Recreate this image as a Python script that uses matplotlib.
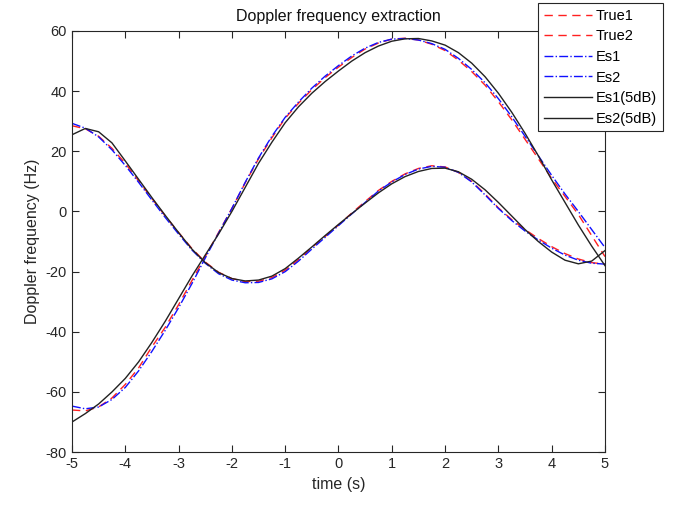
import matplotlib.pyplot as plt
import numpy as np

plt.rcParams["font.family"] = ["Liberation Sans", "DejaVu Sans"]
plt.rcParams["axes.unicode_minus"] = False

# time axis, step 0.25 s
t = [-5, -4.75, -4.5, -4.25, -4, -3.75, -3.5, -3.25, -3, -2.75, -2.5, -2.25, -2, -1.75,
     -1.5, -1.25, -1, -0.75, -0.5, -0.25, 0, 0.25, 0.5, 0.75, 1, 1.25, 1.5, 1.75, 2,
     2.25, 2.5, 2.75, 3, 3.25, 3.5, 3.75, 4, 4.25, 4.5, 4.75, 5]

true1 = [-66, -66.3, -65, -62, -57.5, -52, -45, -38.5, -31, -23, -15, -7, 1, 9.5,
         17.5, 24.5, 31, 36, 40.5, 44.5, 48, 51.2, 54, 56, 57.3, 57.6, 57, 55.6, 53.5,
         50.3, 46.5, 42, 36.5, 30.5, 24, 17.5, 11, 5, -1, -8, -15]
true2 = [28.5, 27.5, 25, 21, 16, 10.2, 4.3, -1.5, -7, -12.3, -16.8, -20.2, -22.3, -23.3,
         -23.2, -22, -19.5, -16, -12, -8.3, -4.5, -0.5, 3.3, 7, 10, 12.5, 14.3, 15.2, 14.8,
         13, 10, 5.8, 1.2, -2.7, -6, -9, -11.7, -14, -15.8, -17, -17.5]
es1 = [-64.7, -65.6, -65, -62.5, -58.5, -53, -46.5, -39.5, -32, -24, -15.5, -7.2, 1, 9.7,
       17.8, 25, 31.3, 36.4, 41, 45, 48.5, 51.7, 54.3, 56.2, 57.3, 57.5, 57, 55.8, 53.9,
       50.9, 47.2, 42.8, 37.5, 31.5, 25, 18.5, 12, 5.8, 0, -6, -12]
es2 = [29.3, 27.7, 24.8, 20.5, 15.3, 9.7, 3.8, -2, -7.5, -12.8, -17.2, -20.7, -22.8, -23.7,
       -23.6, -22.4, -20, -16.5, -12.5, -8.6, -4.7, -0.8, 3, 6.8, 9.8, 12.3, 14.1, 15, 14.7,
       13, 9.8, 5.5, 1, -3, -6.5, -9.5, -12.2, -14.5, -16.2, -17.2, -17.5]
es1_5db = [-70, -67.2, -64, -60, -55.5, -50, -43.5, -36.5, -29, -21.5, -14.5, -7.5, 0, 8,
           16, 23, 29.5, 34.8, 39.3, 43.2, 46.7, 50, 52.8, 55, 56.6, 57.4, 57.5, 56.7, 55.3,
           52.8, 49.3, 44.8, 39.3, 33, 26, 18.5, 10.5, 3, -4.5, -11.5, -18]
es2_5db = [25.5, 27.6, 26.5, 22.8, 16.8, 10.7, 4.6, -1.3, -7, -12.5, -17, -20.3, -22.3, -23.1,
           -22.8, -21.5, -19, -15.5, -11.8, -8, -4.3, -0.7, 2.8, 6.2, 9.2, 11.6, 13.3, 14.3, 14.4,
           13.2, 10.7, 7.2, 3, -1.5, -6, -10, -13.5, -16.2, -17.4, -16.5, -13]

fig = plt.figure(figsize=(6.79, 5.08), dpi=100)
ax = fig.add_axes([0.106, 0.110, 0.785, 0.829])

ax.plot(t, true1, "--", color="#ff2020", lw=1, dashes=(6, 4), label="True1")
ax.plot(t, true2, "--", color="#ff2020", lw=1, dashes=(6, 4), label="True2")
ax.plot(t, es1, "-.", color="#1010ff", lw=1, label="Es1")
ax.plot(t, es2, "-.", color="#1010ff", lw=1, label="Es2")
ax.plot(t, es1_5db, "-", color="#222222", lw=1, label="Es1(5dB)")
ax.plot(t, es2_5db, "-", color="#222222", lw=1, label="Es2(5dB)")

ax.set_xlim(-5, 5)
ax.set_ylim(-80, 60)
ax.set_xticks(np.arange(-5, 6, 1))
ax.set_yticks(np.arange(-80, 61, 20))
ax.tick_params(direction="in", top=True, right=True, length=5, labelsize=10.5,
               colors="#262626")
for s in ax.spines.values():
    s.set_color("#262626")
    s.set_linewidth(0.8)

ax.set_xlabel("time (s)", fontsize=11.5, color="#262626")
ax.set_ylabel("Doppler frequency (Hz)", fontsize=11.5, color="#262626")
ax.set_title("Doppler frequency extraction", fontsize=11.5, color="#111111", pad=7)

leg = ax.legend(loc="upper right", bbox_to_anchor=(663 / 679, 1 - 3 / 508),
                bbox_transform=fig.transFigure, borderaxespad=0, fancybox=False,
                framealpha=1, edgecolor="#262626", fontsize=10.5, handlelength=3.3,
                labelspacing=0.45, borderpad=0.4, handletextpad=0.3)
leg.get_frame().set_linewidth(0.8)

fig.savefig("out.png", dpi=100)
